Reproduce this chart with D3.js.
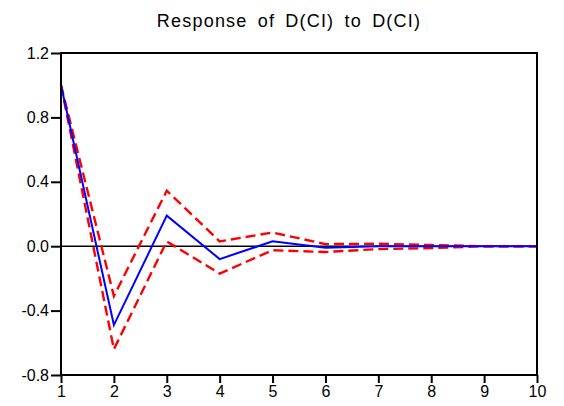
<!DOCTYPE html>
<html>
<head>
<meta charset="utf-8">
<script src="https://cdn.jsdelivr.net/npm/d3@7"></script>
<style>
  html, body { margin: 0; padding: 0; background: #fff; }
  svg { display: block; }
  text { font-family: "Liberation Sans", Arial, sans-serif; fill: #000; }
</style>
</head>
<body>
<script>
// Impulse response of D(CI) to a shock in D(CI), with ±2 S.E. bands
const periods = [1, 2, 3, 4, 5, 6, 7, 8, 9, 10];
const response = [1.00, -0.49, 0.19, -0.08, 0.03, -0.01, 0.00, 0.00, 0.00, 0.00];
const upperBand = [1.00, -0.31, 0.345, 0.03, 0.085, 0.013, 0.015, 0.007, 0.00, 0.00];
const lowerBand = [1.00, -0.64, 0.03, -0.17, -0.025, -0.036, -0.018, -0.012, 0.00, 0.00];
const yTicks = [-0.8, -0.4, 0.0, 0.4, 0.8, 1.2];
const xTicks = [1, 2, 3, 4, 5, 6, 7, 8, 9, 10];
const title = "Response of D(CI) to D(CI)";

const W = 564, H = 406;
const margin = { top: 53, right: 27, bottom: 31, left: 61 };
const iw = W - margin.left - margin.right;
const ih = H - margin.top - margin.bottom;

const svg = d3.select("body").append("svg").attr("width", W).attr("height", H);

svg.append("text")
  .attr("x", 289).attr("y", 27)
  .attr("text-anchor", "middle")
  .style("font-size", "18px")
  .style("letter-spacing", "1.2px")
  .style("word-spacing", "4px")
  .text(title);

const g = svg.append("g").attr("transform", `translate(${margin.left},${margin.top})`);

const x = d3.scaleLinear().domain([1, 10]).range([0, iw]);
const y = d3.scaleLinear().domain([-0.8, 1.2]).range([ih, 0]);

// zero reference line
g.append("line")
  .attr("x1", 0).attr("x2", iw)
  .attr("y1", y(0)).attr("y2", y(0))
  .attr("stroke", "#000").attr("stroke-width", 1.5);

const line = d3.line().x((d, i) => x(periods[i])).y(d => y(d));

[upperBand, lowerBand].forEach(band => {
  g.append("path")
    .datum(band)
    .attr("d", line)
    .attr("fill", "none")
    .attr("stroke", "#ff0000")
    .attr("stroke-width", 2.4)
    .attr("stroke-dasharray", "10,5");
});

g.append("path")
  .datum(response)
  .attr("d", line)
  .attr("fill", "none")
  .attr("stroke", "#0000ff")
  .attr("stroke-width", 2);

// frame
g.append("rect")
  .attr("x", 0).attr("y", 0).attr("width", iw).attr("height", ih)
  .attr("fill", "none").attr("stroke", "#000").attr("stroke-width", 2);

// axes (plain hyphen for negative labels)
const fmtY = d => d3.format(".1f")(d).replace("\u2212", "-");
const yAxis = g.append("g")
  .call(d3.axisLeft(y).tickValues(yTicks).tickSize(10).tickPadding(2).tickFormat(fmtY));
const xAxis = g.append("g").attr("transform", `translate(0,${ih})`)
  .call(d3.axisBottom(x).tickValues(xTicks).tickSize(8).tickPadding(3)
    .tickFormat(d3.format("d")));

[yAxis, xAxis].forEach(a => {
  a.select(".domain").remove();
  a.selectAll(".tick line").attr("stroke", "#000").attr("stroke-width", 2);
  a.selectAll(".tick text")
    .style("font-family", "'Liberation Sans', Arial, sans-serif")
    .style("font-size", "16px")
    .attr("fill", "#000");
});
</script>
</body>
</html>
